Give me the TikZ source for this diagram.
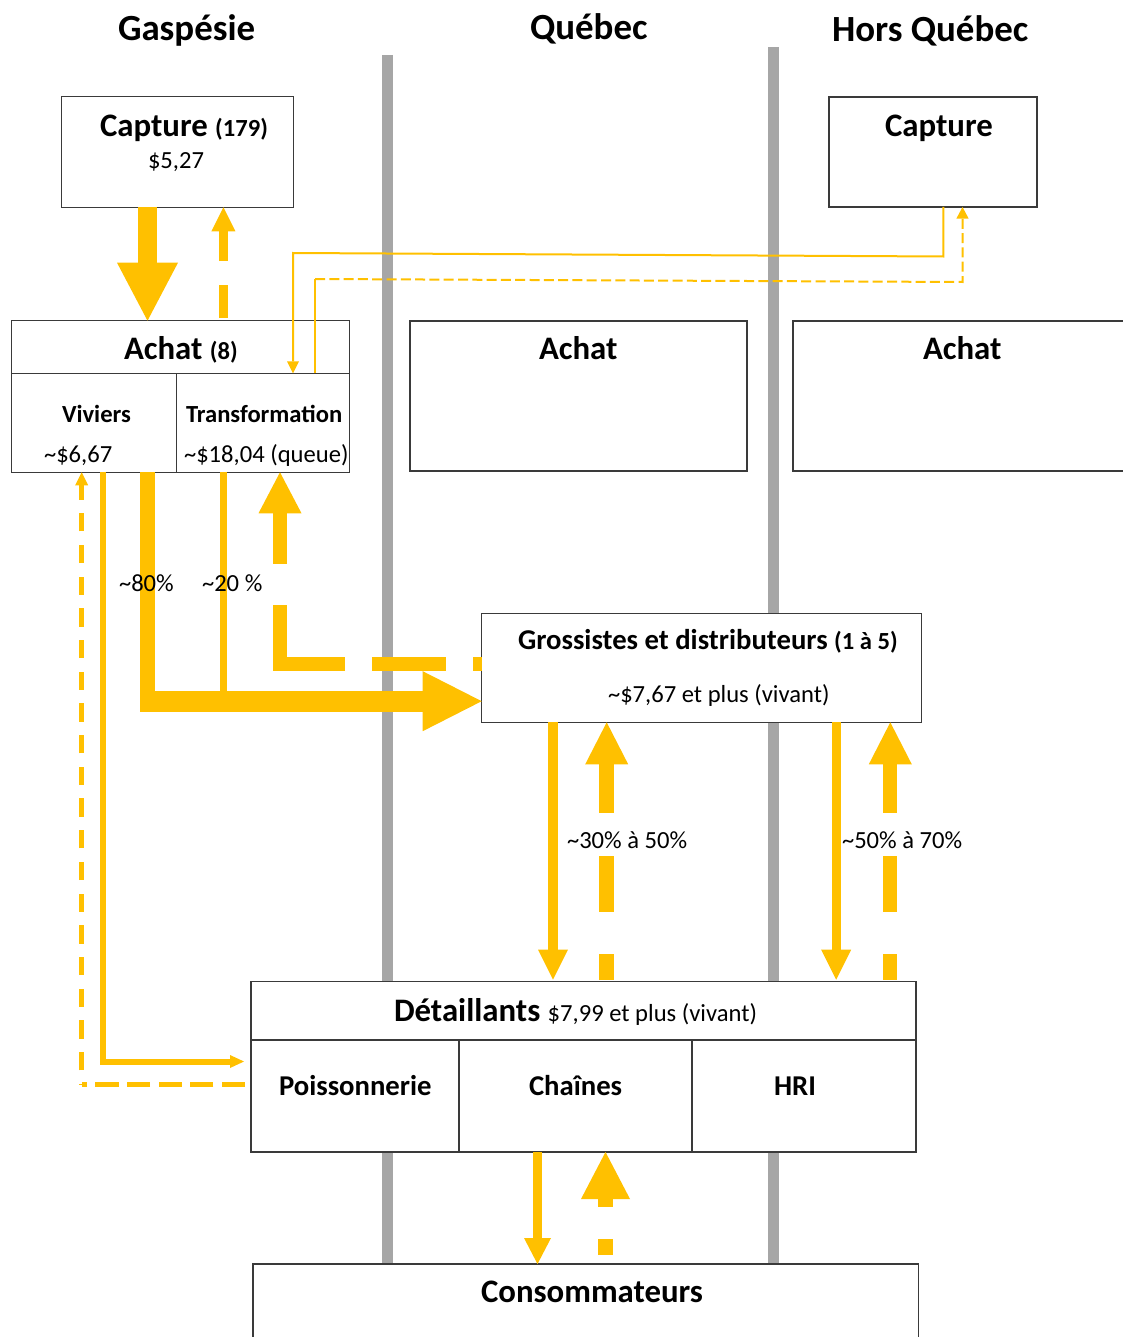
\documentclass[tikz,border=0pt]{standalone}
\usepackage{fontspec}
\setmainfont{Carlito}
\usetikzlibrary{arrows.meta}
\definecolor{gold}{HTML}{FFC000}
\definecolor{bargray}{HTML}{A6A6A6}
\definecolor{edgegray}{HTML}{3A3A3A}
\newcommand\fsz[1]{\fontsize{#1}{#1}\selectfont}
\begin{document}
\begin{tikzpicture}[x=1pt,y=-1pt,
  box/.style={draw=edgegray,line width=1.3pt,fill=white,rectangle,inner sep=0pt,outer sep=0pt,anchor=north west},
  txt/.style={inner sep=0pt,outer sep=0pt,anchor=base west,text=black},
  flow/.style={draw=gold,line cap=butt},
  headtip/.style 2 args={-{Triangle[length=#1,width=#2,line width=0pt]}},
  sep/.style={draw=bargray,line width=11.6pt}]
\useasboundingbox (0,0) rectangle (1123,1337);

% region separators
\coordinate (barQa) at (387.5,55);
\coordinate (barQb) at (387.5,1264);
\coordinate (barHa) at (773.5,47);
\coordinate (barHb) at (773.5,1264);
\draw[sep] (barQa) -- (barQb);
\draw[sep] (barHa) -- (barHb);

% boxes
\node[box,minimum width=231.6pt,minimum height=110.6pt] (capG) at (61.7,96.7) {};
\node[box,minimum width=208pt,minimum height=110pt] (capH) at (829,97) {};
\node[box,minimum width=337.6pt,minimum height=52.6pt] (achG) at (11.7,320.7) {};
\node[box,minimum width=164.6pt,minimum height=99pt] (viv) at (11.7,373.3) {};
\node[box,minimum width=173pt,minimum height=99pt] (trans) at (176.3,373.3) {};
\node[box,minimum width=337pt,minimum height=150pt] (achQ) at (410,321) {};
\node[box,minimum width=345pt,minimum height=150pt] (achH) at (793,321) {};
\node[box,minimum width=440pt,minimum height=109pt] (gros) at (481.7,613.3) {};
\node[box,minimum width=665pt,minimum height=58.3pt] (det) at (251,981.7) {};
\node[box,minimum width=208pt,minimum height=112pt] (poi) at (251,1040) {};
\node[box,minimum width=233pt,minimum height=112pt] (cha) at (459,1040) {};
\node[box,minimum width=224pt,minimum height=112pt] (hri) at (692,1040) {};
\node[box,minimum width=665.6pt,minimum height=100pt] (cons) at (253,1264) {};

% helper coordinates
\coordinate (cA) at (147.5,0);
\coordinate (cB) at (223.4,0);
\coordinate (kC1) at (943.3,256.5);
\coordinate (kC2) at (293,253);
\coordinate (kD1) at (315,279);
\coordinate (kD2) at (962.5,282);
\coordinate (k7a) at (147.5,711.7);
\coordinate (k7b) at (140,701.2);
\coordinate (k8) at (223.5,691);
\coordinate (k9) at (280,663.7);
\coordinate (k6) at (103,1061.5);
\coordinate (k5) at (81.7,1084.3);
\coordinate (c10a) at (553,0);
\coordinate (c10b) at (606.7,0);
\coordinate (c11a) at (836.2,0);
\coordinate (c11b) at (890.3,0);
\coordinate (c12a) at (537.5,0);
\coordinate (c12b) at (605.5,0);

% Capture -> Achat
\draw[flow,line width=19pt,headtip={58pt}{61pt}] (capG.south -| cA) -- (achG.north -| cA);
\draw[flow,line width=9pt,dash pattern=on 33pt off 24pt on 80pt,headtip={24pt}{24pt},shorten <=2.5pt] (achG.north -| cB) -- (capG.south -| cB);

% Hors Quebec capture <-> Transformation
\draw[flow,line width=2pt,headtip={12pt}{12pt}] (capH.south -| kC1) -- (kC1) -- (kC2) -- (trans.north -| kC2);
\draw[flow,line width=2pt] (trans.north -| kD1) -- (kD1);
\draw[flow,line width=2pt,dash pattern=on 10pt off 4.3pt,headtip={11.6pt}{12.3pt}] (kD1) -- (kD2) -- (capH.south -| kD2);

% Achat -> Grossistes
\draw[flow,line width=15pt] (viv.south -| k7a) -- (k7a);
\draw[flow,line width=7pt] (trans.south -| k8) -- (k8);
\draw[flow,line width=21pt,headtip={59pt}{60pt}] (k7b) -- (gros.west |- k7b);
\draw[flow,line width=14pt,dash pattern=on 8.3pt off 27.7pt on 73.3pt off 27.4pt on 123.3pt off 41.7pt on 200pt,headtip={41pt}{43pt}] (gros.west |- k9) -- (k9) -- (trans.south -| k9);

% Viviers <-> Poissonnerie
\draw[flow,line width=6pt,headtip={14pt}{13pt},shorten >=7pt] (viv.south -| k6) -- (k6) -- (poi.west |- k6);
\draw[flow,line width=5pt,dash pattern=on 23.3pt off 8.3pt,shorten <=6pt] (poi.west |- k5) -- (k5);
\draw[flow,line width=5pt,dash pattern=on 18.3pt off 13.4pt,dash phase=17.7pt,headtip={13pt}{13pt}] (k5) -- (viv.south -| k5);

% Grossistes <-> Detaillants
\draw[flow,line width=9.4pt,headtip={30pt}{30pt},shorten >=2pt] (gros.south -| c10a) -- (det.north -| c10a);
\draw[flow,line width=15pt,dash pattern=on 26pt off 42pt on 56pt off 43pt on 100pt,headtip={42pt}{43pt},shorten <=2pt] (det.north -| c10b) -- (gros.south -| c10b);
\draw[flow,line width=9pt,headtip={30pt}{30pt},shorten >=2pt] (gros.south -| c11a) -- (det.north -| c11a);
\draw[flow,line width=14pt,dash pattern=on 26pt off 42pt on 56pt off 43pt on 100pt,headtip={42pt}{43pt},shorten <=2pt] (det.north -| c11b) -- (gros.south -| c11b);

% Detaillants <-> Consommateurs
\draw[flow,line width=9pt,headtip={26pt}{27pt}] (cha.south -| c12a) -- (cons.north -| c12a);
\draw[flow,line width=15pt,dash pattern=on 16pt off 32pt on 60pt,headtip={47pt}{49pt},shorten <=9pt] (cons.north -| c12b) -- (cha.south -| c12b);

% texts
\node[txt,font=\fsz{36.9}\bfseries] (tG) at (118,41) {Gaspésie};
\node[txt,font=\fsz{36.9}\bfseries] (tQ) at (530,40) {Québec};
\node[txt,font=\fsz{36.9}\bfseries] (tH) at (832,41.5) {Hors Québec};

\node[txt,font=\bfseries] (tcapG) at (100,136.5) {\fsz{32.8}Capture \fsz{24.6}(179)};
\node[txt,font=\fsz{24.6}] (tcapGp) at (148,168.5) {\$5,27};
\node[txt,font=\fsz{32.8}\bfseries] (tcapH) at (885,136.5) {Capture};

\node[txt,font=\bfseries] (tachG) at (124,359.5) {\fsz{32.8}Achat \fsz{24.6}(8)};
\node[txt,font=\fsz{32.8}\bfseries] (tachQ) at (539,359.5) {Achat};
\node[txt,font=\fsz{32.8}\bfseries] (tachH) at (923,359.5) {Achat};
\node[txt,font=\fsz{24.6}\bfseries] (tviv) at (62,422) {Viviers};
\node[txt,font=\fsz{24.6}\bfseries] (ttrans) at (186,422) {Transformation};
\node[txt,font=\fsz{24.6}] (tvivp) at (44,462) {\textasciitilde\$6,67};
\node[txt,font=\fsz{24.6}] (ttransp) at (184,462) {\textasciitilde\$18,04 (queue)};

\node[txt,font=\fsz{24.6}] (t80) at (119,591) {\textasciitilde 80\%};
\node[txt,font=\fsz{24.6}] (t20) at (202,591) {\textasciitilde 20 \%};

\node[txt,font=\bfseries] (tgros) at (518,649.5) {\fsz{28.7}Grossistes et distributeurs \fsz{24.6}(1 à 5)};
\node[txt,font=\fsz{24.6}] (tgrosp) at (608,702) {\textasciitilde\$7,67 et plus (vivant)};

\node[txt,font=\fsz{24.6}] (t3050) at (567,848) {\textasciitilde 30\% à 50\%};
\node[txt,font=\fsz{24.6}] (t5070) at (842,848) {\textasciitilde 50\% à 70\%};

\node[txt] (tdet) at (394,1021.5) {\fsz{32.8}\bfseries Détaillants \fsz{24.6}\mdseries\$7,99 et plus (vivant)};
\node[txt,font=\fsz{28.7}\bfseries] (tpoi) at (279,1095) {Poissonnerie};
\node[txt,font=\fsz{28.7}\bfseries] (tcha) at (529,1095) {Chaînes};
\node[txt,font=\fsz{28.7}\bfseries] (thri) at (774,1095) {HRI};
\node[txt,font=\fsz{32.8}\bfseries] (tcons) at (481,1302) {Consommateurs};
\end{tikzpicture}
\end{document}
